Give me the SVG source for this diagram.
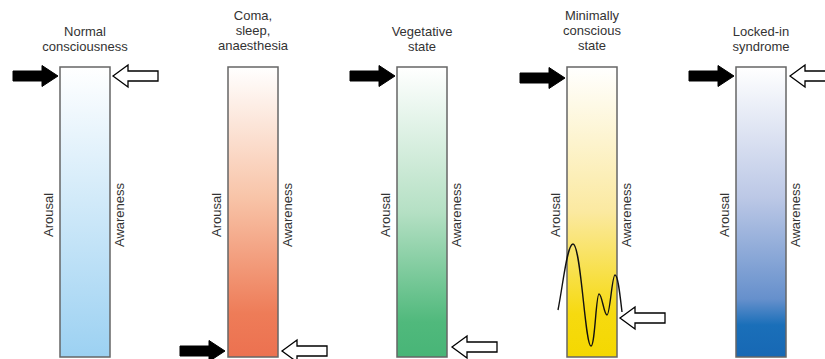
<svg xmlns="http://www.w3.org/2000/svg" width="825" height="359" viewBox="0 0 825 359">
<style>
  text { font-family: "Liberation Sans", Arial, sans-serif; font-size: 13px; fill: #333; }
  .title { text-anchor: middle; }
  .side { text-anchor: middle; }
  .bar { stroke: #666; stroke-width: 1.5; }
  .ab { fill: #000; stroke: #000; stroke-width: 1; stroke-linejoin: miter; }
  .aw { fill: #fff; stroke: #000; stroke-width: 1.3; stroke-linejoin: miter; }
  .wave { fill: none; stroke: #111; stroke-width: 1.4; }
</style>
<defs>
  <linearGradient id="gBlue" x1="0" y1="0" x2="0" y2="1">
    <stop offset="0" stop-color="#ffffff"/>
    <stop offset="1" stop-color="#9cd1f2"/>
  </linearGradient>
  <linearGradient id="gOrange" x1="0" y1="0" x2="0" y2="1">
    <stop offset="0" stop-color="#ffffff"/>
    <stop offset="0.45" stop-color="#f8c4a8"/>
    <stop offset="0.85" stop-color="#ee7c58"/>
    <stop offset="1" stop-color="#ec7150"/>
  </linearGradient>
  <linearGradient id="gGreen" x1="0" y1="0" x2="0" y2="1">
    <stop offset="0" stop-color="#ffffff"/>
    <stop offset="0.5" stop-color="#b5e0c4"/>
    <stop offset="0.88" stop-color="#50b97c"/>
    <stop offset="1" stop-color="#48b577"/>
  </linearGradient>
  <linearGradient id="gYellow" x1="0" y1="0" x2="0" y2="1">
    <stop offset="0" stop-color="#ffffff"/>
    <stop offset="0.5" stop-color="#fbe9a0"/>
    <stop offset="0.85" stop-color="#f6da10"/>
    <stop offset="1" stop-color="#f4d800"/>
  </linearGradient>
  <linearGradient id="gNavy" x1="0" y1="0" x2="0" y2="1">
    <stop offset="0" stop-color="#ffffff"/>
    <stop offset="0.45" stop-color="#bcc8e6"/>
    <stop offset="0.8" stop-color="#6690cc"/>
    <stop offset="0.89" stop-color="#1a6fb9"/>
    <stop offset="1" stop-color="#1768b4"/>
  </linearGradient>
  <path id="blackArrow" d="M0,0 L-16,-10.5 L-16,-5 L-45,-5 L-45,5 L-16,5 L-16,10.5 Z"/>
  <path id="whiteArrow" d="M0,0 L15,-11 L15,-5 L45,-5 L45,5 L15,5 L15,11 Z"/>
</defs>

<g id="normal">
  <rect class="bar" x="60" y="67" width="50" height="290" fill="url(#gBlue)"/>
  <text class="title" x="85" y="36">Normal</text>
  <text class="title" x="85" y="51">consciousness</text>
  <text class="side" transform="translate(53,215) rotate(-90)">Arousal</text>
  <text class="side" transform="translate(124,215) rotate(-90)">Awareness</text>
</g>

<g id="coma">
  <rect class="bar" x="228" y="67" width="50" height="290" fill="url(#gOrange)"/>
  <text class="title" x="253" y="20">Coma,</text>
  <text class="title" x="253" y="35">sleep,</text>
  <text class="title" x="253" y="50">anaesthesia</text>
  <text class="side" transform="translate(221,215) rotate(-90)">Arousal</text>
  <text class="side" transform="translate(292,215) rotate(-90)">Awareness</text>
</g>

<g id="vegetative">
  <rect class="bar" x="397" y="67" width="50" height="290" fill="url(#gGreen)"/>
  <text class="title" x="422" y="36">Vegetative</text>
  <text class="title" x="422" y="51">state</text>
  <text class="side" transform="translate(390,215) rotate(-90)">Arousal</text>
  <text class="side" transform="translate(461,215) rotate(-90)">Awareness</text>
</g>

<g id="minimally">
  <rect class="bar" x="567" y="67" width="50" height="290" fill="url(#gYellow)"/>
  <text class="title" x="592" y="20">Minimally</text>
  <text class="title" x="592" y="35">conscious</text>
  <text class="title" x="592" y="50">state</text>
  <text class="side" transform="translate(560,215) rotate(-90)">Arousal</text>
  <text class="side" transform="translate(631,215) rotate(-90)">Awareness</text>
  <path class="wave" d="M558,310 C563,285 567,244 573,244 C581,244 585,346 591,346 C595,346 596,294 599,294 C602,294 604,315 607,315 C610,315 612,275 615,275 C618,275 620,295 622,312"/>
</g>

<g id="locked">
  <rect class="bar" x="736" y="67" width="50" height="290" fill="url(#gNavy)"/>
  <text class="title" x="761" y="36">Locked-in</text>
  <text class="title" x="761" y="51">syndrome</text>
  <text class="side" transform="translate(729,215) rotate(-90)">Arousal</text>
  <text class="side" transform="translate(800,215) rotate(-90)">Awareness</text>
</g>

<g id="connectors">
  <use href="#blackArrow" class="ab" x="58" y="76"/>
  <use href="#whiteArrow" class="aw" x="113" y="76"/>
  <use href="#blackArrow" class="ab" x="225" y="351"/>
  <use href="#whiteArrow" class="aw" x="282" y="351"/>
  <use href="#blackArrow" class="ab" x="395" y="76"/>
  <use href="#whiteArrow" class="aw" x="452" y="347"/>
  <use href="#blackArrow" class="ab" x="565" y="78"/>
  <use href="#whiteArrow" class="aw" x="620" y="318"/>
  <use href="#blackArrow" class="ab" x="734" y="76"/>
  <use href="#whiteArrow" class="aw" x="790" y="76"/>
</g>
</svg>
